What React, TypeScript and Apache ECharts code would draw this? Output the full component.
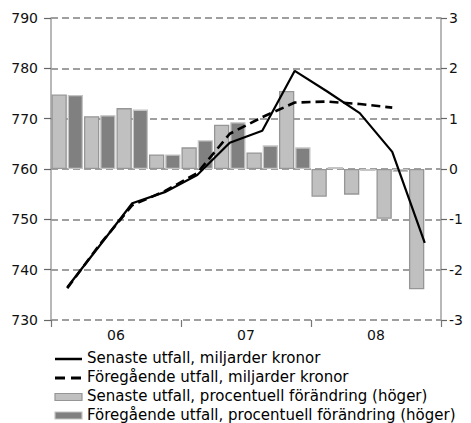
import React, { useEffect, useRef } from "react";
import * as echarts from "echarts";

const quarters = ["06K1", "06K2", "06K3", "06K4", "07K1", "07K2", "07K3", "07K4", "08K1", "08K2", "08K3", "08K4"];
const years = ["06", "07", "08"];
const senasteLevel = [736.5, 744.8, 753.2, 755.4, 758.8, 765.2, 767.6, 779.5, 775.4, 771.1, 763.4, 745.3];
const foregaendeLevel = [736.3, 745.0, 752.8, 755.6, 759.2, 767.0, 770.3, 773.2, 773.4, 772.9, 772.2, null];
const senastePct = [1.48, 1.05, 1.21, 0.29, 0.43, 0.88, 0.33, 1.55, -0.55, -0.51, -0.99, -2.39];
const foregaendePct = [1.47, 1.07, 1.18, 0.29, 0.57, 0.93, 0.47, 0.43, 0.04, -0.04, -0.06, null];
const leftTicks = { min: 730, max: 790, interval: 10 };
const rightTicks = { min: -3, max: 3, interval: 1 };

const names = [
  "Senaste utfall, miljarder kronor",
  "Föregående utfall, miljarder kronor",
  "Senaste utfall, procentuell förändring (höger)",
  "Föregående utfall, procentuell förändring (höger)",
];

const FONT = "DejaVu Sans";
const LIGHT = { color: "#c0c0c0", borderColor: "#969696" };
const DARK = { color: "#808080", borderColor: "#c4c4c4" };

function legendGraphics() {
  const x0 = 55;
  const iconW = 27;
  const tx = 87;
  const rows = [358, 377, 396, 414.5];
  const els: any[] = [];
  const textStyle = (t: string) => ({ text: t, fontFamily: FONT, fontSize: 15, fill: "#000", verticalAlign: "middle", align: "left" });
  els.push({ type: "line", shape: { x1: x0, y1: rows[0] + 1, x2: x0 + iconW, y2: rows[0] + 1 }, style: { stroke: "#000", lineWidth: 2.5 } });
  els.push({ type: "line", shape: { x1: x0, y1: rows[1] + 1, x2: x0 + iconW, y2: rows[1] + 1 }, style: { stroke: "#000", lineWidth: 3, lineDash: [10, 6] } });
  els.push({ type: "rect", shape: { x: x0, y: rows[2] - 2.5, width: iconW, height: 7 }, style: { fill: LIGHT.color, stroke: LIGHT.borderColor, lineWidth: 1.2 } });
  els.push({ type: "rect", shape: { x: x0, y: rows[3] - 2.5, width: iconW, height: 7 }, style: { fill: DARK.color, stroke: DARK.borderColor, lineWidth: 1.2 } });
  names.forEach((n, i) => {
    els.push({ type: "text", x: tx, y: rows[i], style: textStyle(n) });
  });
  return els;
}

export default function App() {
  const ref = useRef<HTMLDivElement>(null);
  useEffect(() => {
    document.body.style.margin = "0";
    const chart = echarts.init(ref.current!, null, { renderer: "svg" });
    chart.setOption({
      animation: false,
      textStyle: { fontFamily: FONT },
      grid: { left: 51, right: 30, top: 18, bottom: 103, containLabel: false },
      graphic: legendGraphics(),
      xAxis: [
        { type: "category", data: quarters, show: false },
        {
          type: "category",
          data: years,
          position: "bottom",
          axisLine: { show: false },
          axisTick: { show: true, length: 7, lineStyle: { color: "#777", width: 1.2 } },
          axisLabel: { fontFamily: FONT, fontSize: 14, color: "#111", margin: 8 },
          splitLine: { show: false },
        },
      ],
      yAxis: [
        {
          type: "value",
          min: leftTicks.min,
          max: leftTicks.max,
          interval: leftTicks.interval,
          position: "left",
          axisLine: { show: true, lineStyle: { color: "#a0a0a0", width: 1.5 } },
          axisTick: { show: true, length: 7, lineStyle: { color: "#666", width: 1.2 } },
          axisLabel: { fontFamily: FONT, fontSize: 14, color: "#111", margin: 13 },
          splitLine: { show: true, lineStyle: { color: "#808080", width: 1.6, type: [7, 4] } },
        },
        {
          type: "value",
          min: rightTicks.min,
          max: rightTicks.max,
          interval: rightTicks.interval,
          position: "right",
          axisLine: { show: true, lineStyle: { color: "#a0a0a0", width: 1.5 } },
          axisTick: { show: true, length: 6, lineStyle: { color: "#666", width: 1.2 } },
          axisLabel: { fontFamily: FONT, fontSize: 14, color: "#111", margin: 8 },
          splitLine: { show: false },
        },
      ],
      series: [
        {
          name: names[2],
          type: "bar",
          yAxisIndex: 1,
          data: senastePct,
          barGap: "6%",
          barCategoryGap: "3%",
          itemStyle: { ...LIGHT, borderWidth: 1.3 },
        },
        {
          name: names[3],
          type: "bar",
          yAxisIndex: 1,
          data: foregaendePct,
          barGap: "6%",
          barCategoryGap: "3%",
          itemStyle: { ...DARK, borderWidth: 1.3 },
        },
        {
          name: names[0],
          type: "line",
          yAxisIndex: 0,
          data: senasteLevel,
          symbol: "none",
          lineStyle: { color: "#000", width: 2.2, type: "solid" },
          itemStyle: { color: "#000" },
          z: 5,
        },
        {
          name: names[1],
          type: "line",
          yAxisIndex: 0,
          data: foregaendeLevel,
          symbol: "none",
          lineStyle: { color: "#000", width: 2.6, type: [9, 5] },
          itemStyle: { color: "#000" },
          z: 4,
        },
      ],
    });
    return () => chart.dispose();
  }, []);
  return <div ref={ref} style={{ position: "absolute", left: 0, top: 0, width: 471, height: 423 }} />;
}
